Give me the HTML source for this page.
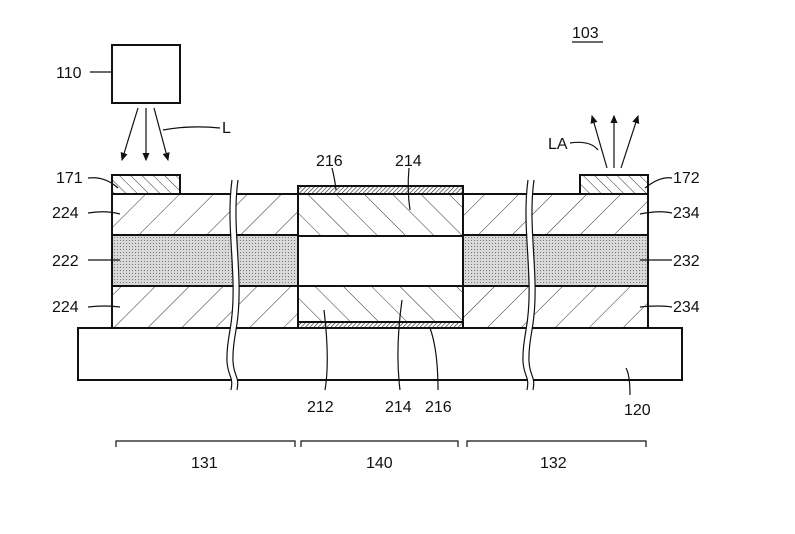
<!DOCTYPE html>
<html><head><style>body{margin:0;background:#fff}svg{display:block}text{font-family:"Liberation Sans",sans-serif;font-size:16px;fill:#111}</style></head><body>
<svg width="795" height="534" viewBox="0 0 795 534" xmlns="http://www.w3.org/2000/svg">
<defs>
<pattern id="h1" width="24" height="24" patternUnits="userSpaceOnUse" patternTransform="rotate(45)"><line x1="0" y1="0" x2="0" y2="24" stroke="#333" stroke-width="1"/></pattern>
<pattern id="h2" width="20" height="20" patternUnits="userSpaceOnUse" patternTransform="rotate(-45)"><line x1="0" y1="0" x2="0" y2="20" stroke="#333" stroke-width="1"/></pattern>
<pattern id="h3" width="8" height="8" patternUnits="userSpaceOnUse" patternTransform="rotate(-45)"><line x1="0" y1="0" x2="0" y2="8" stroke="#333" stroke-width="1"/></pattern>
<pattern id="h4" width="3" height="3" patternUnits="userSpaceOnUse" patternTransform="rotate(45)"><line x1="0" y1="0" x2="0" y2="3" stroke="#222" stroke-width="1.2"/></pattern>
<pattern id="dots" width="3" height="3" patternUnits="userSpaceOnUse"><rect width="3" height="3" fill="#d8d8d8"/><rect width="1" height="1" fill="#777"/></pattern>
<marker id="ar" markerWidth="8" markerHeight="8" refX="6" refY="4" orient="auto"><path d="M0,1 L7,4 L0,7 z" fill="#111"/></marker>
</defs>
<g stroke="#111" stroke-width="2" fill="none">
<rect x="78" y="328" width="604" height="52" fill="#fff"/>
<rect x="112" y="194" width="186" height="41" fill="url(#h1)"/>
<rect x="112" y="235" width="186" height="51" fill="url(#dots)"/>
<rect x="112" y="286" width="186" height="42" fill="url(#h1)"/>
<rect x="463" y="194" width="185" height="41" fill="url(#h1)"/>
<rect x="463" y="235" width="185" height="51" fill="url(#dots)"/>
<rect x="463" y="286" width="185" height="42" fill="url(#h1)"/>
<rect x="298" y="186" width="165" height="8" fill="url(#h4)"/>
<rect x="298" y="194" width="165" height="42" fill="url(#h2)"/>
<rect x="298" y="236" width="165" height="50" fill="#fff"/>
<rect x="298" y="286" width="165" height="36" fill="url(#h2)"/>
<rect x="298" y="322" width="165" height="6" fill="url(#h4)"/>
<rect x="112" y="175" width="68" height="19" fill="url(#h3)"/>
<rect x="580" y="175" width="68" height="19" fill="url(#h3)"/>
<rect x="112" y="45" width="68" height="58" fill="#fff"/>
</g>
<g stroke="#fff" stroke-width="5" fill="none">
<path d="M235,180 C228,230 242,280 233,330 S238,370 234,390"/>
<path d="M531,180 C524,230 538,280 529,330 S534,370 530,390"/>
</g>
<g stroke="#111" stroke-width="1.2" fill="none">
<path d="M232,180 C225,230 239,280 230,330 S235,370 231,390"/>
<path d="M238,180 C231,230 245,280 236,330 S241,370 237,390"/>
<path d="M528,180 C521,230 535,280 526,330 S531,370 527,390"/>
<path d="M534,180 C527,230 541,280 532,330 S537,370 533,390"/>
<line x1="138" y1="108" x2="122" y2="160" marker-end="url(#ar)"/>
<line x1="146" y1="108" x2="146" y2="160" marker-end="url(#ar)"/>
<line x1="154" y1="108" x2="168" y2="160" marker-end="url(#ar)"/>
<line x1="607" y1="168" x2="592" y2="116" marker-end="url(#ar)"/>
<line x1="614" y1="168" x2="614" y2="116" marker-end="url(#ar)"/>
<line x1="621" y1="168" x2="638" y2="116" marker-end="url(#ar)"/>
<path d="M90,72 L112,72"/><path d="M163,130 Q190,125 220,128"/>
<path d="M570,143 Q590,140 598,150"/>
<path d="M88,178 Q105,176 118,188"/><path d="M88,213 Q105,210 120,214"/>
<path d="M88,260 L120,260"/><path d="M88,307 Q105,305 120,307"/>
<path d="M672,178 Q660,176 645,188"/><path d="M672,213 Q660,210 640,214"/>
<path d="M672,260 L640,260"/><path d="M672,307 Q660,305 640,307"/>
<path d="M332,168 Q335,180 336,190"/><path d="M409,168 Q407,190 410,210"/>
<path d="M325,390 Q330,360 324,310"/><path d="M400,390 Q395,350 402,300"/><path d="M438,390 Q438,350 430,328"/>
<path d="M630,395 Q630,375 626,368"/>
<path d="M116,447 L116,441 L295,441 L295,447"/><path d="M301,447 L301,441 L458,441 L458,447"/><path d="M467,447 L467,441 L646,441 L646,447"/>
<line x1="572" y1="42" x2="603" y2="42"/>
</g>
<text x="572" y="38">103</text>
<text x="56" y="78">110</text>
<text x="222" y="133">L</text>
<text x="548" y="149">LA</text>
<text x="56" y="183">171</text>
<text x="52" y="218">224</text>
<text x="52" y="266">222</text>
<text x="52" y="312">224</text>
<text x="673" y="183">172</text>
<text x="673" y="218">234</text>
<text x="673" y="266">232</text>
<text x="673" y="312">234</text>
<text x="316" y="166">216</text>
<text x="395" y="166">214</text>
<text x="307" y="412">212</text>
<text x="385" y="412">214</text>
<text x="425" y="412">216</text>
<text x="624" y="415">120</text>
<text x="191" y="468">131</text>
<text x="366" y="468">140</text>
<text x="540" y="468">132</text>
</svg>
</body></html>
